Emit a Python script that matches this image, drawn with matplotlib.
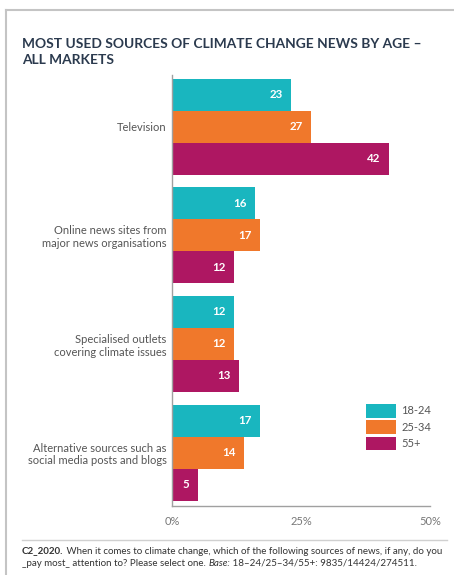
import numpy as np
import matplotlib
matplotlib.use("Agg")
import matplotlib.pyplot as plt
from matplotlib.lines import Line2D

plt.rcParams['font.family'] = ['Lato', 'DejaVu Sans']

categories = ["Television",
              "Online news sites from\nmajor news organisations",
              "Specialised outlets\ncovering climate issues",
              "Alternative sources such as\nsocial media posts and blogs"]
age_groups = ["18-24", "25-34", "55+"]
share_18_24 = [23, 16, 12, 17]
share_25_34 = [27, 17, 12, 14]
share_55_plus = [42, 12, 13, 5]
tick_values = [0, 25, 50]
tick_labels = ["0%", "25%", "50%"]

colors = ["#19b6bf", "#f0782b", "#ae1762"]
W, H = 454, 575

fig = plt.figure(figsize=(W / 100, H / 100), dpi=100)

# page frame on the left and top
fig.add_artist(Line2D([6 / W, 6 / W], [0, 1 - 10 / H], transform=fig.transFigure,
                      color="#c4c4c4", lw=1.5))
fig.add_artist(Line2D([6 / W, 1], [1 - 10 / H, 1 - 10 / H], transform=fig.transFigure,
                      color="#c4c4c4", lw=1.5))

fig.text(22 / W, 1 - 52 / H, "MOST USED SOURCES OF CLIMATE CHANGE NEWS BY AGE \u2013\nALL MARKETS",
         ha="left", va="center", fontsize=9.9, fontweight="bold", color="#2b3a4e",
         linespacing=1.3)

ax = fig.add_axes([172 / W, 1 - 506 / H, 258 / W, (506 - 75) / H])

y = np.arange(len(categories))
h = 32 / 108.5
series = [share_18_24, share_25_34, share_55_plus]
for k, (vals, col, lab) in enumerate(zip(series, colors, age_groups)):
    bars = ax.barh(y + (k - 1) * h, vals, height=h, color=col, label=lab)
    for b, v in zip(bars, vals):
        ax.text(v - 1.6, b.get_y() + h / 2, str(v), ha="right", va="center",
                color="white", fontsize=8.3, fontweight="bold")

ax.set_xlim(0, 50)
ax.set_ylim(3.493, -0.479)
ax.set_yticks(y)
ax.set_yticklabels(categories, fontsize=8, color="#555555", linespacing=1.2)
ax.set_xticks(tick_values)
ax.set_xticklabels(tick_labels, fontsize=8, color="#777777")
ax.tick_params(axis="both", length=0)
ax.tick_params(axis="y", pad=4)
ax.tick_params(axis="x", pad=7)
for s in ["top", "right"]:
    ax.spines[s].set_visible(False)
for s in ["left", "bottom"]:
    ax.spines[s].set_color("#a0a0a0")
    ax.spines[s].set_linewidth(1.0)

ax.legend(loc="upper left", bbox_to_anchor=(366 / W, 1 - 404 / H),
          bbox_transform=fig.transFigure, frameon=False, fontsize=8,
          handlelength=2.7, handleheight=1.5, labelspacing=0.25,
          handletextpad=0.5, borderpad=0, borderaxespad=0,
          labelcolor="#555555")

# footnote
fig.add_artist(Line2D([22 / W, 447 / W], [1 - 540 / H, 1 - 540 / H], transform=fig.transFigure,
                      color="#d0d0d0", lw=1.0))
fs = 7.05
t1 = fig.text(22 / W, 1 - 551 / H, "C2_2020.", ha="left", va="center", fontsize=fs,
              fontweight="bold", color="#333333")
plt.annotate(" When it comes to climate change, which of the following sources of news, if any, do you",
             xy=(1, 0), xycoords=t1, va="bottom", ha="left", fontsize=fs, color="#333333",
             annotation_clip=False)
t2 = fig.text(22 / W, 1 - 563 / H, "_pay most_ attention to? Please select one. ", ha="left",
              va="center", fontsize=fs, color="#333333")
t3 = plt.annotate("Base:", xy=(1, 0), xycoords=t2, va="bottom", ha="left", fontsize=fs,
                  style="italic", color="#333333", annotation_clip=False)
plt.annotate(" 18\u201324/25\u201334/55+: 9835/14424/274511.", xy=(1, 0), xycoords=t3,
             va="bottom", ha="left", fontsize=fs, color="#333333", annotation_clip=False)

fig.savefig("out.png", dpi=100)
